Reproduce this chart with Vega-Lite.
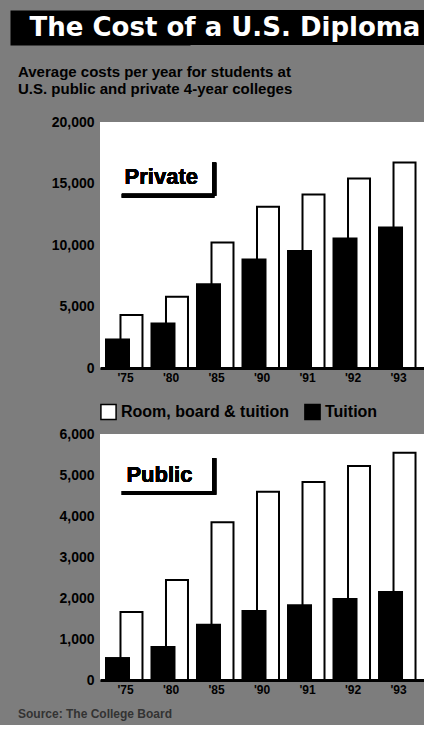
{
  "$schema": "https://vega.github.io/schema/vega-lite/v6.json",
  "background": "#7d7d7d",
  "padding": {"left": 10, "top": 10, "right": 0, "bottom": 5},
  "spacing": 20,
  "align": "none",
  "config": {
    "font": "Liberation Sans",
    "view": {"stroke": null},
    "axis": {"labelFont": "Liberation Sans", "labelColor": "black", "labelFontWeight": "bold"}
  },
  "datasets": {
    "costs": [
      {"panel": "Private", "year": "'75", "total": 4300, "tuition": 2400},
      {"panel": "Private", "year": "'80", "total": 5800, "tuition": 3700},
      {"panel": "Private", "year": "'85", "total": 10200, "tuition": 6900},
      {"panel": "Private", "year": "'90", "total": 13100, "tuition": 8900},
      {"panel": "Private", "year": "'91", "total": 14100, "tuition": 9600},
      {"panel": "Private", "year": "'92", "total": 15400, "tuition": 10600},
      {"panel": "Private", "year": "'93", "total": 16700, "tuition": 11500},
      {"panel": "Public", "year": "'75", "total": 1660, "tuition": 560},
      {"panel": "Public", "year": "'80", "total": 2440, "tuition": 830},
      {"panel": "Public", "year": "'85", "total": 3850, "tuition": 1370},
      {"panel": "Public", "year": "'90", "total": 4590, "tuition": 1710},
      {"panel": "Public", "year": "'91", "total": 4830, "tuition": 1850},
      {"panel": "Public", "year": "'92", "total": 5220, "tuition": 2000},
      {"panel": "Public", "year": "'93", "total": 5540, "tuition": 2170}
    ]
  },
  "resolve": {"scale": {"x": "independent", "y": "independent"}, "legend": {"fill": "independent"}},
  "vconcat": [
    {
      "width": 324,
      "height": 35,
      "view": {"fill": "black", "stroke": null},
      "data": {"values": [{"t": "The Cost of a U.S. Diploma"}]},
      "mark": {"type": "text", "color": "white", "font": "DejaVu Sans", "fontWeight": "bold", "fontSize": 26, "dx": -37},
      "encoding": {
        "text": {"field": "t"},
        "y": {"datum": 1, "type": "quantitative", "scale": {"domain": [0, 2]},
          "axis": {"title": null, "labels": false, "ticks": false, "grid": false, "domain": true, "domainColor": "black", "domainWidth": 180, "minExtent": 90, "maxExtent": 90}}
      }
    },
    {
      "spacing": 4,
      "align": "none",
      "resolve": {"scale": {"x": "independent", "y": "independent"}, "legend": {"fill": "independent"}},
      "vconcat": [
        {
          "width": 324,
          "height": 246,
          "view": {"fill": "white", "stroke": null},
          "title": {
            "text": ["Average costs per year for students at", "U.S. public and private 4-year colleges"],
            "anchor": "start",
            "frame": "bounds",
            "dx": 8,
            "fontSize": 15,
            "fontWeight": "bold",
            "color": "black",
            "lineHeight": 17,
            "offset": 18
          },
          "data": {"name": "costs"},
          "transform": [{"filter": "datum.panel === 'Private'"}],
          "layer": [
            {
              "mark": {"type": "bar", "width": 22, "xOffset": 6, "stroke": "black", "strokeWidth": 2},
              "encoding": {
                "x": {"field": "year", "type": "ordinal", "sort": null,
                  "scale": {"paddingInner": 0, "paddingOuter": 0.06},
                  "axis": {"title": null, "labelAngle": 0, "ticks": false, "domainColor": "black", "domainWidth": 3, "labelFontSize": 12, "labelPadding": 4}},
                "y": {"field": "total", "type": "quantitative",
                  "scale": {"domain": [0, 20000], "nice": false},
                  "axis": {"title": null, "values": [0, 5000, 10000, 15000, 20000], "format": ",d", "grid": false, "ticks": false, "domain": false, "labelFontSize": 14, "labelPadding": 6, "minExtent": 90, "maxExtent": 90}},
                "fill": {"datum": "Room, board & tuition", "type": "nominal",
                  "scale": {"domain": ["Room, board & tuition", "Tuition"], "range": ["white", "black"]},
                  "legend": {"title": null, "orient": "bottom", "direction": "horizontal", "symbolType": "square", "symbolSize": 230, "symbolStrokeColor": "black", "symbolStrokeWidth": 1.5, "labelFontSize": 16, "labelFontWeight": "bold", "labelColor": "black", "labelLimit": 0, "columnPadding": 12, "offset": 20}}
              }
            },
            {
              "mark": {"type": "bar", "width": 25, "xOffset": -8},
              "encoding": {
                "x": {"field": "year", "type": "ordinal", "sort": null},
                "y": {"field": "tuition", "type": "quantitative"},
                "fill": {"datum": "Tuition", "type": "nominal"}
              }
            },
            {
              "mark": {"type": "text", "align": "left", "baseline": "middle", "fontSize": 22, "fontWeight": "bold", "color": "black"},
              "encoding": {
                "x": {"datum": "'75", "type": "ordinal", "bandPosition": 0.48},
                "y": {"datum": 15500, "type": "quantitative"},
                "text": {"value": "Private"}
              }
            },
            {
              "mark": {"type": "rule", "strokeWidth": 4, "color": "black"},
              "encoding": {
                "x": {"datum": "'75", "type": "ordinal", "bandPosition": 0.42},
                "x2": {"datum": "'85", "bandPosition": 0.45},
                "y": {"datum": 14000, "type": "quantitative"}
              }
            },
            {
              "mark": {"type": "rule", "strokeWidth": 4, "color": "black"},
              "encoding": {
                "x": {"datum": "'85", "type": "ordinal", "bandPosition": 0.45},
                "y": {"datum": 16700, "type": "quantitative"},
                "y2": {"datum": 14000}
              }
            }
          ]
        },
        {
          "width": 324,
          "height": 246,
          "view": {"fill": "white", "stroke": null},
          "title": {
            "text": "Source: The College Board",
            "orient": "bottom",
            "anchor": "start",
            "frame": "bounds",
            "dx": 8,
            "fontSize": 12,
            "fontWeight": "bold",
            "color": "#333333",
            "offset": 14
          },
          "data": {"name": "costs"},
          "transform": [{"filter": "datum.panel === 'Public'"}],
          "layer": [
            {
              "mark": {"type": "bar", "width": 22, "xOffset": 6, "stroke": "black", "strokeWidth": 2},
              "encoding": {
                "x": {"field": "year", "type": "ordinal", "sort": null,
                  "scale": {"paddingInner": 0, "paddingOuter": 0.06},
                  "axis": {"title": null, "labelAngle": 0, "ticks": false, "domainColor": "black", "domainWidth": 3, "labelFontSize": 12, "labelPadding": 4}},
                "y": {"field": "total", "type": "quantitative",
                  "scale": {"domain": [0, 6000], "nice": false},
                  "axis": {"title": null, "values": [0, 1000, 2000, 3000, 4000, 5000, 6000], "format": ",d", "grid": false, "ticks": false, "domain": false, "labelFontSize": 14, "labelPadding": 6, "minExtent": 90, "maxExtent": 90}},
                "fill": {"datum": "Room, board & tuition", "type": "nominal",
                  "scale": {"domain": ["Room, board & tuition", "Tuition"], "range": ["white", "black"]},
                  "legend": null}
              }
            },
            {
              "mark": {"type": "bar", "width": 25, "xOffset": -8},
              "encoding": {
                "x": {"field": "year", "type": "ordinal", "sort": null},
                "y": {"field": "tuition", "type": "quantitative"},
                "fill": {"datum": "Tuition", "type": "nominal"}
              }
            },
            {
              "mark": {"type": "text", "align": "left", "baseline": "middle", "fontSize": 22, "fontWeight": "bold", "color": "black"},
              "encoding": {
                "x": {"datum": "'75", "type": "ordinal", "bandPosition": 0.52},
                "y": {"datum": 5000, "type": "quantitative"},
                "text": {"value": "Public"}
              }
            },
            {
              "mark": {"type": "rule", "strokeWidth": 4, "color": "black"},
              "encoding": {
                "x": {"datum": "'75", "type": "ordinal", "bandPosition": 0.42},
                "x2": {"datum": "'85", "bandPosition": 0.45},
                "y": {"datum": 4560, "type": "quantitative"}
              }
            },
            {
              "mark": {"type": "rule", "strokeWidth": 4, "color": "black"},
              "encoding": {
                "x": {"datum": "'85", "type": "ordinal", "bandPosition": 0.45},
                "y": {"datum": 5410, "type": "quantitative"},
                "y2": {"datum": 4520}
              }
            }
          ]
        }
      ]
    }
  ]
}
